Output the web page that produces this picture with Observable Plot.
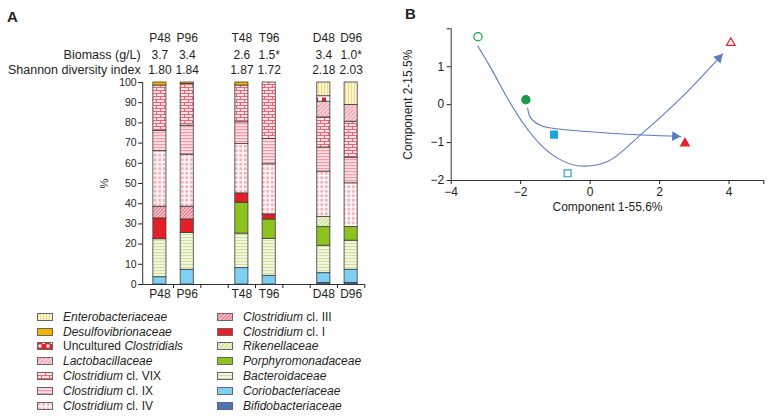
<!DOCTYPE html>
<html><head><meta charset="utf-8">
<script src="https://cdn.jsdelivr.net/npm/d3@7"></script>
<script src="https://cdn.jsdelivr.net/npm/@observablehq/plot@0.6"></script>
<style>
html,body{margin:0;padding:0;background:#fff;}
#root{position:relative;width:770px;height:418px;overflow:hidden;font-family:"Liberation Sans",Arial,sans-serif;color:#231f20;}
.panel{position:absolute;top:0;}
.letter{position:absolute;font-weight:bold;font-size:15px;line-height:15px;}
.lrow{position:absolute;height:15px;display:flex;align-items:center;white-space:nowrap;font-size:12px;}
.lrow svg{margin-right:10px;flex:none;}
</style></head>
<body>
<svg width="0" height="0" style="position:absolute">
<defs>
<pattern id="p-entero" patternUnits="userSpaceOnUse" width="3" height="4"><rect width="3" height="4" fill="#fdf4c8"/><rect x="0" width="1" height="4" fill="#eed88f"/></pattern>
<pattern id="p-uncult" patternUnits="userSpaceOnUse" width="8" height="8"><rect width="8" height="8" fill="#fff"/><rect x="2" y="1.5" width="4" height="4" fill="#e41f26"/></pattern>
<pattern id="p-uncult-key" patternUnits="userSpaceOnUse" width="8" height="8"><rect width="8" height="8" fill="#e41f26"/><rect x="1.5" y="2.5" width="3" height="3" fill="#fff"/><rect x="5.5" y="0" width="2.5" height="2" fill="#fff"/></pattern>
<pattern id="p-lacto" patternUnits="userSpaceOnUse" width="3" height="3" patternTransform="rotate(45)"><rect width="3" height="3" fill="#fad3d9"/><rect width="1" height="3" fill="#ee97a4"/></pattern>
<pattern id="p-vix" patternUnits="userSpaceOnUse" width="8" height="6"><rect width="8" height="6" fill="#fbe3e6"/><path d="M0,0.5H8M0,3.5H8M0.5,0.5V3.5M4.5,3.5V6.5" stroke="#ec6474" stroke-width="1" fill="none"/></pattern>
<pattern id="p-ix" patternUnits="userSpaceOnUse" width="4" height="3"><rect width="4" height="3" fill="#fce0e3"/><rect y="0" width="4" height="1.2" fill="#f29aa6"/></pattern>
<pattern id="p-iv" patternUnits="userSpaceOnUse" width="4.5" height="4.5"><rect width="4.5" height="4.5" fill="#fff"/><rect x="0.75" y="0.75" width="3" height="3" fill="#f5b3bd"/></pattern>
<pattern id="p-iii" patternUnits="userSpaceOnUse" width="2.5" height="2.5" patternTransform="rotate(45)"><rect width="2.5" height="2.5" fill="#f8c8ce"/><rect width="1" height="2.5" fill="#e46a7a"/></pattern>
<pattern id="p-riken" patternUnits="userSpaceOnUse" width="3" height="3" patternTransform="rotate(45)"><rect width="3" height="3" fill="#eef5d2"/><rect width="1" height="3" fill="#c2d888"/></pattern>
<pattern id="p-bact" patternUnits="userSpaceOnUse" width="4" height="3"><rect width="4" height="3" fill="#f3f8e0"/><rect width="4" height="1.1" fill="#cfe09c"/></pattern>
</defs>
</svg>
<div id="root">
  <div class="letter" style="left:7px;top:9px;">A</div>
  <div class="letter" style="left:405px;top:6px;">B</div>
  <div id="panelA" class="panel" style="left:0;"></div>
  <div id="legend"></div>
  <div id="panelB" class="panel" style="left:380px;"></div>
</div>
<script>
// ---------- Panel A data ----------
const samples = ["P48", "P96", "T48", "T96", "D48", "D96"];
const biomass = ["3.7", "3.4", "2.6", "1.5*", "3.4", "1.0*"];
const shannon = ["1.80", "1.84", "1.87", "1.72", "2.18", "2.03"];
// stacking order, bottom to top
const taxa = ["Bifidobacteriaceae", "Coriobacteriaceae", "Bacteroidaceae", "Porphyromonadaceae",
  "Rikenellaceae", "Clostridium cl. I", "Clostridium cl. III", "Clostridium cl. IV",
  "Clostridium cl. IX", "Clostridium cl. VIX", "Lactobacillaceae", "Uncultured Clostridials",
  "Desulfovibrionaceae", "Enterobacteriaceae"];
const bifidobacteriaceae     = [0, 0, 0, 0, 0.8, 0.8];
const coriobacteriaceae      = [3.6, 7.3, 8.1, 4.3, 4.8, 6.5];
const bacteroidaceae         = [18.8, 18.2, 17.1, 18.3, 13.6, 14.4];
const porphyromonadaceae     = [0, 0, 15.3, 9.6, 9.2, 6.8];
const rikenellaceae          = [0, 0, 0, 0, 5.1, 0];
const clostridiumI           = [10.3, 6.7, 4.6, 2.5, 0, 0];
const clostridiumIII         = [5.8, 6.3, 0, 0, 0, 0];
const clostridiumIV          = [27.5, 25.8, 24.4, 24.8, 22.4, 21.6];
const clostridiumIX          = [10, 14.3, 10.8, 12.5, 11.9, 12.7];
const clostridiumVIX         = [22.5, 20.7, 18.2, 28, 14.9, 17.8];
const lactobacillaceae       = [0, 0, 0, 0, 7.8, 8.3];
const unculturedClostridials = [0, 0, 0, 0, 2.7, 0];
const desulfovibrionaceae    = [1.5, 0.7, 1.5, 0, 0, 0];
const enterobacteriaceae     = [0, 0, 0, 0, 6.8, 11.1];
const yTicks = [0, 10, 20, 30, 40, 50, 60, 70, 80, 90, 100];
const legendLeft = ["Enterobacteriaceae", "Desulfovibrionaceae", "Uncultured Clostridials",
  "Lactobacillaceae", "Clostridium cl. VIX", "Clostridium cl. IX", "Clostridium cl. IV"];
const legendRight = ["Clostridium cl. III", "Clostridium cl. I", "Rikenellaceae",
  "Porphyromonadaceae", "Bacteroidaceae", "Coriobacteriaceae", "Bifidobacteriaceae"];

// ---------- Panel B data ----------
const pcaSamples = ["P48", "P96", "T48", "T96", "D48", "D96"];
const pcaGroup = ["P", "P", "T", "T", "D", "D"];
const pcaTime = [48, 96, 48, 96, 48, 96];
const pc1 = [-1.85, -3.23, -1.04, -0.65, 2.73, 4.05];
const pc2 = [0.13, 1.79, -0.79, -1.81, -1.02, 1.63];
const path96x = [-3.23, -2.86, -2.38, -1.9, -1.42, -0.94, -0.36, 0.5, 1.46, 2.61, 3.82];
const path96y = [1.54, 0.97, 0.17, -0.53, -1.06, -1.41, -1.61, -1.5, -0.79, 0.17, 1.34];
const path48x = [-1.8, -1.71, -1.42, -0.84, 0.69, 2.61];
const path48y = [-0.09, -0.35, -0.55, -0.65, -0.76, -0.84];

// ---------- styles ----------
const paint = {
  "Bifidobacteriaceae": "#4d74b9",
  "Coriobacteriaceae": "#7fcff3",
  "Bacteroidaceae": "url(#p-bact)",
  "Porphyromonadaceae": "#8dc21f",
  "Rikenellaceae": "url(#p-riken)",
  "Clostridium cl. I": "#e41f26",
  "Clostridium cl. III": "url(#p-iii)",
  "Clostridium cl. IV": "url(#p-iv)",
  "Clostridium cl. IX": "url(#p-ix)",
  "Clostridium cl. VIX": "url(#p-vix)",
  "Lactobacillaceae": "url(#p-lacto)",
  "Uncultured Clostridials": "url(#p-uncult)",
  "Desulfovibrionaceae": "#f2b600",
  "Enterobacteriaceae": "url(#p-entero)"
};
const keyPaint = Object.assign({}, paint, {"Uncultured Clostridials": "url(#p-uncult-key)"});
const series = [bifidobacteriaceae, coriobacteriaceae, bacteroidaceae, porphyromonadaceae,
  rikenellaceae, clostridiumI, clostridiumIII, clostridiumIV, clostridiumIX, clostridiumVIX,
  lactobacillaceae, unculturedClostridials, desulfovibrionaceae, enterobacteriaceae];

// layout: pairs of bars with one empty slot between groups
const slotOf = samples.map((s, i) => Math.floor(i / 2) * 3 + (i % 2));
const bars = samples.map((s, i) => ({sample: s, slot: slotOf[i], biomass: biomass[i], shannon: shannon[i]}));
const segments = [];
samples.forEach((s, i) => {
  let acc = 0;
  taxa.forEach((t, k) => {
    const v = series[k][i];
    if (v > 0) {
      segments.push({sample: s, taxon: t, slot: slotOf[i], y1: acc, y2: acc + v, fill: paint[t]});
      acc += v;
    }
  });
});

const font = '"Liberation Sans", Arial, sans-serif';
const ink = "#231f20";
const xDom = [-0.13, 8];

const plotA = Plot.plot({
  width: 380, height: 300,
  marginLeft: 142.2, marginRight: 15.7, marginTop: 82, marginBottom: 16,
  x: {domain: xDom, axis: null},
  y: {domain: [0, 100], axis: null},
  color: {type: "identity"},
  style: {fontFamily: font, fontSize: "12px", color: ink, background: "transparent", overflow: "visible"},
  marks: [
    Plot.rect(segments, {x1: d => d.slot + 0.26, x2: d => d.slot + 0.74, y1: "y1", y2: "y2",
      fill: "fill", stroke: "#3c3c3c", strokeWidth: 0.8}),
    Plot.ruleX([xDom[0]], {y1: 0, y2: 100, stroke: "#333", strokeWidth: 1}),
    Plot.ruleY([0], {x1: xDom[0], x2: xDom[1], stroke: "#333", strokeWidth: 1}),
    Plot.axisY({ticks: yTicks, tickSize: 4, tickPadding: 2, fontSize: 10.5, label: null}),
    Plot.axisX({ticks: d3.range(1, 9), tickSize: 4, tickFormat: () => "", label: null}),
    Plot.text(bars, {x: d => d.slot + 0.5, text: "sample", frameAnchor: "bottom", dy: 13, fontSize: 12}),
    Plot.text(bars, {x: d => d.slot + 0.5, text: "sample", frameAnchor: "top", dy: -49, fontSize: 12}),
    Plot.text(bars, {x: d => d.slot + 0.5, text: "biomass", frameAnchor: "top", dy: -32, fontSize: 12}),
    Plot.text(bars, {x: d => d.slot + 0.5, text: "shannon", frameAnchor: "top", dy: -17, fontSize: 12}),
    Plot.text(["Biomass (g/L)"], {frameAnchor: "top-left", textAnchor: "end", dx: -2, dy: -32, fontSize: 12.5}),
    Plot.text(["Shannon diversity index"], {frameAnchor: "top-left", textAnchor: "end", dx: -2, dy: -17, fontSize: 12.5}),
    Plot.text(["%"], {frameAnchor: "left", textAnchor: "middle", dx: -38, rotate: -90, fontSize: 11})
  ]
});
document.getElementById("panelA").appendChild(plotA);

// ---------- legend ----------
const legend = document.getElementById("legend");
function legendLabel(name) {
  if (name.startsWith("Clostridium cl.")) return `<i>Clostridium</i>&nbsp;${name.slice(12)}`;
  if (name.startsWith("Uncultured")) return `Uncultured <i>Clostridials</i>`;
  return `<i>${name}</i>`;
}
function addColumn(list, left) {
  list.forEach((name, i) => {
    const row = document.createElement("div");
    row.className = "lrow";
    row.style.left = left + "px";
    row.style.top = (316.7 + i * 14.8 - 7.5) + "px";
    row.innerHTML = `<svg width="16" height="8"><rect x="0.5" y="0.5" width="15" height="7" fill="${keyPaint[name]}" stroke="#666" stroke-width="1"/></svg><span>${legendLabel(name)}</span>`;
    legend.appendChild(row);
  });
}
addColumn(legendLeft, 37);
addColumn(legendRight, 217);

// ---------- Panel B ----------
const groupColor = {P: "#1a9b4a", T: "#1ea3e0", D: "#e3202b"};
const groupSymbol = {P: "circle", T: "square", D: "triangle"};
const groupR = {P: 4.1, T: 3.9, D: 3.2};
const pca = pcaSamples.map((s, i) => ({sample: s, group: pcaGroup[i], time: pcaTime[i], x: pc1[i], y: pc2[i]}));
const path96 = path96x.map((x, i) => ({x, y: path96y[i]}));
const path48 = path48x.map((x, i) => ({x, y: path48y[i]}));

const W = 390, H = 225, mL = 70.7, mR = 6.7, mT = 28.3, mB = 45;
const xDomB = [-4, 5], yDomB = [-2, 2];
const kx = (W - mL - mR) / (xDomB[1] - xDomB[0]);
const ky = (H - mT - mB) / (yDomB[1] - yDomB[0]);
const headR = 3.7;
function head(xs, ys) {
  const n = xs.length;
  const dxp = (xs[n - 1] - xs[n - 2]) * kx, dyp = -(ys[n - 1] - ys[n - 2]) * ky;
  const len = Math.hypot(dxp, dyp), ux = dxp / len, uy = dyp / len;
  const back = 2 * Math.sqrt(Math.PI * headR * headR / (3 * Math.sqrt(3)));
  return {x: xs[n - 1] - ux * back / kx, y: ys[n - 1] + uy * back / ky, rotate: Math.atan2(ux, -uy) * 180 / Math.PI};
}
const heads = [head(path96x, path96y), head(path48x, path48y)];
const arrowColor = "#5b7bc3";
const fmt = d3.format("d");

const plotB = Plot.plot({
  width: W, height: H, marginLeft: mL, marginRight: mR, marginTop: mT, marginBottom: mB,
  x: {domain: xDomB, axis: null},
  y: {domain: yDomB, axis: null},
  color: {type: "identity"},
  style: {fontFamily: font, fontSize: "12px", color: ink, background: "transparent", overflow: "visible"},
  marks: [
    Plot.ruleX([xDomB[0]], {y1: yDomB[0], y2: yDomB[1], stroke: "#333"}),
    Plot.ruleY([yDomB[0]], {x1: xDomB[0], x2: xDomB[1], stroke: "#333"}),
    Plot.axisX({ticks: [-4, -2, 0, 2, 4, 5], tickFormat: d => d === 5 ? "" : fmt(d), tickSize: 4, tickPadding: 3, fontSize: 12, label: null}),
    Plot.axisY({ticks: [-2, -1, 0, 1, 2], tickFormat: d => d === 2 ? "" : fmt(d), tickSize: 4, tickPadding: 3, fontSize: 12, label: null}),
    Plot.text(["Component 1-55.6%"], {frameAnchor: "bottom", dy: 30, fontSize: 12}),
    Plot.text(["Component 2-15.5%"], {frameAnchor: "left", textAnchor: "middle", dx: -43, rotate: -90, fontSize: 12}),
    Plot.line(path96, {x: "x", y: "y", curve: "catmull-rom", stroke: arrowColor, strokeWidth: 1.1}),
    Plot.line(path48, {x: "x", y: "y", curve: "catmull-rom", stroke: arrowColor, strokeWidth: 1.1}),
    Plot.dot(heads, {x: "x", y: "y", rotate: "rotate", symbol: "triangle", r: headR, fill: arrowColor, stroke: "none"}),
    ...["P", "T", "D"].map(g => Plot.dot(pca.filter(d => d.group === g), {
      x: "x", y: "y", symbol: groupSymbol[g], r: groupR[g],
      fill: d => d.time === 48 ? groupColor[g] : "white",
      stroke: groupColor[g], strokeWidth: 1.2
    }))
  ]
});
document.getElementById("panelB").appendChild(plotB);
</script>
</body></html>
